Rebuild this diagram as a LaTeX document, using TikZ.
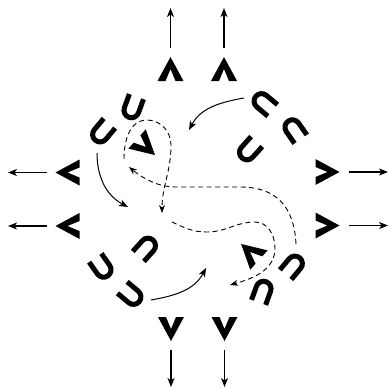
\documentclass[tikz,border=0pt]{standalone}
\usetikzlibrary{arrows.meta}

\begin{document}
\begin{tikzpicture}[
  x=1pt, y=1pt,
  >={Stealth[length=9pt,width=7pt,inset=2.5pt]},
  escape/.style={->, line width=1.1pt, shorten <=9pt},
  swing/.style={->, line width=1pt},
  trail/.style={->, line width=0.9pt, dash pattern=on 5pt off 3.5pt,
                >={Stealth[length=8pt,width=6pt,inset=2.5pt]}},
  chev/.pic={\fill (12,0) coordinate (-tip) -- (-12,13) -- (-12,5) -- (0,0)
                 -- (-12,-5) -- (-12,-13) -- cycle;},
  shoe/.pic={\draw[line width=5pt] (10,7.5) -- (-4.5,7.5)
                 arc[start angle=90,end angle=270,radius=7.5] -- (10,-7.5);},
]
\useasboundingbox (0,0) rectangle (391,-389);

% chevrons on the rim
\pic[rotate=90]  (vt1) at (170.5,-69) {chev};
\pic[rotate=90]  (vt2) at (224,-69) {chev};
\pic[rotate=180] (vl1) at (67.5,-172.5) {chev};
\pic[rotate=180] (vl2) at (67.5,-226) {chev};
\pic[rotate=0]   (vr1) at (327.5,-172) {chev};
\pic[rotate=0]   (vr2) at (327.5,-225.5) {chev};
\pic[rotate=-90] (vb1) at (171,-329) {chev};
\pic[rotate=-90] (vb2) at (224.5,-329) {chev};

% chevrons inside
\pic[rotate=-42] (vin1) at (146,-147) {chev};
\pic[rotate=138] (vin2) at (250,-252) {chev};

% horseshoes
\pic[rotate=70]   (ua) at (133,-106) {shoe};
\pic[rotate=50]   (ub) at (103,-131) {shoe};
\pic[rotate=-40]  (uc) at (265,-104) {shoe};
\pic[rotate=-55]  (ud) at (295,-131) {shoe};
\pic[rotate=48]   (ue) at (250,-149) {shoe};
\pic[rotate=140]  (uf) at (130,-294) {shoe};
\pic[rotate=125]  (ug) at (101,-266) {shoe};
\pic[rotate=-132] (uh) at (145,-249) {shoe};
\pic[rotate=-110] (ui) at (262,-293) {shoe};
\pic[rotate=-130] (uj) at (292,-267) {shoe};

% escaping arrows
\coordinate (et1) at (170.5,-8);
\coordinate (et2) at (224,-8);
\coordinate (el1) at (8,-172.5);
\coordinate (el2) at (8,-226);
\coordinate (er1) at (388,-172);
\coordinate (er2) at (388,-225.5);
\coordinate (eb1) at (171,-387);
\coordinate (eb2) at (224.5,-387);
\draw[escape] (vt1-tip) -- (et1);
\draw[escape] (vt2-tip) -- (et2);
\draw[escape] (vl1-tip) -- (el1);
\draw[escape] (vl2-tip) -- (el2);
\draw[escape] (vr1-tip) -- (er1);
\draw[escape] (vr2-tip) -- (er2);
\draw[escape] (vb1-tip) -- (eb1);
\draw[escape] (vb2-tip) -- (eb2);

% solid turns
\coordinate (sa1) at (244,-98);
\coordinate (ea1) at (189,-130);
\coordinate (sa2) at (151,-300);
\coordinate (ea2) at (206,-268);
\coordinate (sa3) at (97,-153);
\coordinate (ea3) at (128,-207);
\draw[swing] (sa1) to[out=190,in=62] (ea1);
\draw[swing] (sa2) to[out=10,in=242] (ea2);
\draw[swing] (sa3) to[out=-90,in=152] (ea3);

% dashed trails
\coordinate (la) at (124,-159);
\coordinate (lb) at (162,-213);
\draw[trail] (la) to[out=90,in=180] (147,-120) to[out=0,in=90] (171,-145)
  to[out=-90,in=90] (lb);
\coordinate (sb) at (296,-244);
\coordinate (eb) at (129,-167);
\draw[trail] (sb) .. controls (294,-205) and (275,-187) .. (240,-187)
  -- (175,-187) .. controls (160,-187) and (145,-180) .. (eb);
\coordinate (tc) at (172,-222);
\coordinate (ec) at (230,-285);
\draw[trail] (tc) to[out=-25,in=180] (207,-232) to[out=0,in=180] (255,-222)
  to[out=0,in=90] (275,-248) to[out=-90,in=16] (ec);
\end{tikzpicture}
\end{document}
